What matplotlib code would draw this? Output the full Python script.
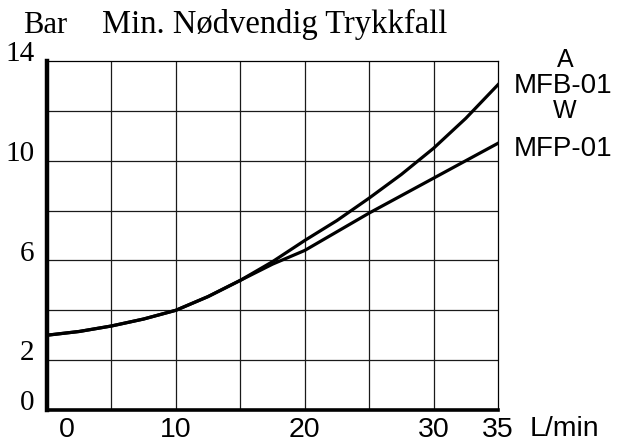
import matplotlib.pyplot as plt
import matplotlib.transforms as mtransforms

# flow (L/min) and pressure drop (bar)
flow = [0, 2.5, 5, 7.5, 10, 12.5, 15, 17.5, 20, 22.5, 25, 27.5, 30, 32.5, 35]
mfb_01 = [3.0, 3.15, 3.37, 3.65, 4.0, 4.55, 5.2, 5.95, 6.8, 7.6, 8.5, 9.45, 10.5, 11.7, 13.05]
mfp_01 = [3.0, 3.15, 3.37, 3.65, 4.0, 4.55, 5.2, 5.85, 6.4, 7.15, 7.9, 8.6, 9.3, 10.0, 10.7]

x_ticks = [0, 10, 20, 30, 35]
y_ticks = [0, 2, 6, 10, 14]

SERIF = 'Liberation Serif'
SANS = 'Liberation Sans'

W, H = 621, 445
fig = plt.figure(figsize=(W / 100, H / 100), dpi=100)
ax = fig.add_axes([47 / W, 35 / H, 451 / W, 349 / H])

ax.plot(flow, mfb_01, color='black', lw=2.3, solid_joinstyle='round')
ax.plot(flow, mfp_01, color='black', lw=2.3, solid_joinstyle='round')

ax.set_xlim(0, 35)
ax.set_ylim(0, 14)

# grid every 5 L/min and every 2 bar
for gx in range(5, 35, 5):
    ax.axvline(gx, color='#1a1a1a', lw=0.9, zorder=0)
for gy in range(2, 14, 2):
    ax.axhline(gy, color='#1a1a1a', lw=0.9, zorder=0)

ax.spines['left'].set_linewidth(3.2)
ax.spines['bottom'].set_linewidth(2.6)
ax.spines['top'].set_linewidth(0.9)
ax.spines['right'].set_linewidth(0.9)
for s in ax.spines.values():
    s.set_color('black')

ax.set_xticks(x_ticks)
ax.set_xticklabels([str(v) for v in x_ticks], fontfamily=SANS, fontsize=20.5)
ax.set_yticks(y_ticks)
ax.set_yticklabels([str(v) for v in y_ticks], fontfamily=SERIF, fontsize=21)
ax.tick_params(axis='both', length=0)
ax.tick_params(axis='x', pad=5)
ax.tick_params(axis='y', pad=9)

# labels sit a bit above their grid lines in the original
up = mtransforms.ScaledTranslation(0, 7 / 72, fig.dpi_scale_trans)
for lab in ax.get_yticklabels():
    lab.set_transform(lab.get_transform() + up)
right = mtransforms.ScaledTranslation(14 / 72, 0, fig.dpi_scale_trans)
first = ax.get_xticklabels()[0]
first.set_transform(first.get_transform() + right)

fig.text(23 / W, 1 - 33 / H, 'Bar', fontfamily=SERIF, fontsize=22, va='baseline')
fig.text(102 / W, 1 - 33 / H, 'Min. Nødvendig Trykkfall', fontfamily=SERIF,
         fontsize=23.5, va='baseline')

fig.text(565 / W, 1 - 60 / H, 'A', fontfamily=SANS, fontsize=18, ha='center', va='center')
fig.text(563 / W, 1 - 86 / H, 'MFB-01', fontfamily=SANS, fontsize=20, ha='center', va='center')
fig.text(565 / W, 1 - 111 / H, 'W', fontfamily=SANS, fontsize=18, ha='center', va='center')
fig.text(563 / W, 1 - 149 / H, 'MFP-01', fontfamily=SANS, fontsize=20, ha='center', va='center')
fig.text(530 / W, 1 - 429 / H, 'L/min', fontfamily=SANS, fontsize=20.5, va='center')

fig.savefig('out.png', dpi=100)
